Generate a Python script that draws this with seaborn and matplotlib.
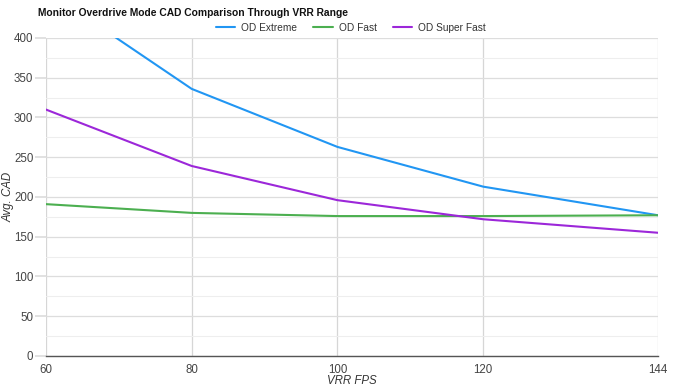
import matplotlib
matplotlib.use("Agg")
import matplotlib.pyplot as plt
import seaborn as sns
import pandas as pd
from matplotlib.ticker import MultipleLocator
from matplotlib.lines import Line2D

sns.set_theme(style="white")
plt.rcParams['font.family'] = ['Liberation Sans', 'DejaVu Sans']

fps = [60, 80, 100, 120, 144]
od_extreme = [460, 336, 263, 213, 177]
od_fast = [191, 180, 176, 176, 177]
od_super_fast = [310, 239, 196, 172, 155]
series_names = ["OD Extreme", "OD Fast", "OD Super Fast"]
colors = ["#2196f3", "#4caf50", "#9c27d9"]

df = pd.DataFrame({
    "fps": fps * 3,
    "cad": od_extreme + od_fast + od_super_fast,
    "mode": [series_names[0]] * 5 + [series_names[1]] * 5 + [series_names[2]] * 5,
})

fig = plt.figure(figsize=(6.75, 3.9), dpi=100)
ax = fig.add_axes([0.068, 0.0872, 0.907, 0.8154])
sns.lineplot(data=df, x="fps", y="cad", hue="mode", palette=colors,
             linewidth=1.5, ax=ax, legend=False)

ax.set_xlim(60, 144)
ax.set_ylim(0, 400)
ax.set_xticks(fps)
ax.set_xticklabels([str(v) for v in fps])
ax.yaxis.set_major_locator(MultipleLocator(50))
ax.yaxis.set_minor_locator(MultipleLocator(25))
ax.grid(True, which="major", axis="y", color="#dddddd", linewidth=0.9)
ax.grid(True, which="minor", axis="y", color="#eeeeee", linewidth=0.8)
ax.grid(True, which="major", axis="x", color="#d6d6d6", linewidth=0.9)
ax.set_axisbelow(True)
for s in ["left", "right", "top"]:
    ax.spines[s].set_visible(False)
ax.spines["bottom"].set_color("#555555")
ax.spines["bottom"].set_linewidth(1.0)
ax.tick_params(axis="y", which="major", length=8, color="#dddddd", labelsize=8.3,
               labelcolor="#444444", pad=1, left=True)
ax.tick_params(axis="y", which="minor", length=0)
ax.tick_params(axis="x", length=0, labelsize=8.3, labelcolor="#444444", pad=6)
ax.set_xlabel("VRR FPS", fontsize=8.3, style="italic", color="#333333", va="center")
ax.set_ylabel("Avg. CAD", fontsize=8.3, style="italic", color="#333333", va="center")
ax.xaxis.set_label_coords(0.5, -0.08)
ax.yaxis.set_label_coords(-0.0615, 0.5)

fig.text(0.056, 0.966, "Monitor Overdrive Mode CAD Comparison Through VRR Range",
         fontsize=7.4, fontweight="bold", color="#111111", va="center", ha="left")

handles = [Line2D([0], [0], color=c, lw=1.5) for c in colors]
fig.legend(handles, series_names, loc="center", bbox_to_anchor=(0.52, 0.929), ncol=3,
           frameon=False, fontsize=7.3, handlelength=1.9, handletextpad=0.6,
           columnspacing=1.6, labelcolor="#333333")

fig.savefig("out.png", dpi=100)
